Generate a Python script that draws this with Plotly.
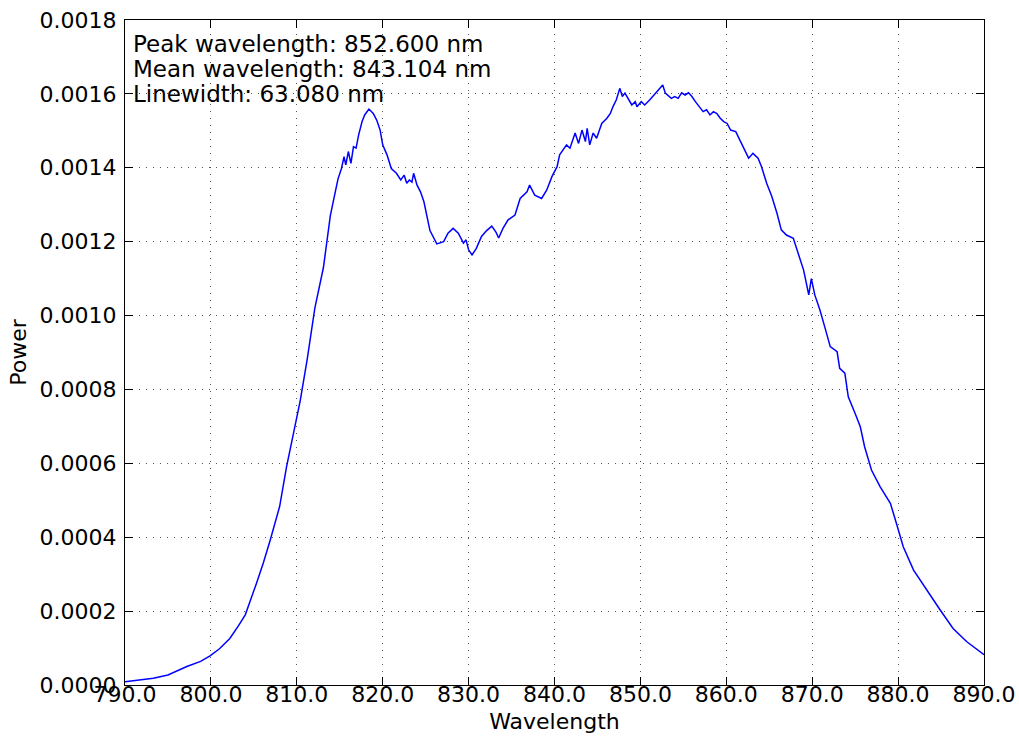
import plotly.graph_objects as go

wavelength = [790.0, 791.5, 793.3, 795.0, 797.2, 798.8, 799.9, 801.0, 802.2, 803.2, 804.0, 805.3,
              806.1, 806.9, 808.0, 808.8, 809.6, 810.4, 811.2, 812.1, 813.1, 813.9,
              814.4, 814.8, 815.2, 815.5, 815.7, 816.0, 816.3, 816.6, 816.9, 817.2, 817.6, 817.9,
              818.4, 818.9, 819.3, 819.7, 820.0, 820.5, 821.0, 821.6, 822.1, 822.5, 822.8, 823.1,
              823.4, 823.6, 824.0, 824.4, 824.8,
              825.1, 825.5, 826.3, 827.1, 827.6, 828.2, 828.8, 829.4, 829.7, 830.0, 830.4, 830.9,
              831.5, 832.1, 832.7, 833.2, 833.5, 834.0, 834.6, 835.4, 836.0, 836.8, 837.1, 837.7,
              838.5, 839.1, 839.7, 840.3,
              840.6, 841.4, 841.8, 842.4, 842.8, 843.2, 843.6, 843.8, 844.1, 844.5, 844.9, 845.5,
              846.1, 846.5, 846.8, 847.2, 847.6, 847.9, 848.2, 848.6, 849.0, 849.4, 849.6, 850.1,
              850.5, 851.1, 851.6, 852.1, 852.6, 852.9, 853.2, 853.6, 854.0, 854.4, 854.8, 855.2,
              855.6, 856.0, 856.4, 856.9, 857.3, 857.7, 858.1, 858.5, 858.9, 859.3, 859.7, 860.1,
              860.5, 861.1, 861.6,
              862.0, 862.6, 863.1, 863.7,
              864.1, 864.7, 865.3, 865.9, 866.4, 867.0, 867.8, 868.4, 869.0, 869.6, 869.9, 870.3,
              870.9, 871.5, 872.1, 872.9, 873.2, 873.8, 874.2, 875.0, 875.6, 876.1, 876.9, 877.9,
              879.1, 879.8, 880.6, 881.8, 883.3, 884.9, 886.4, 888.0, 890.0]

power = [0.0000089, 0.000013, 0.000018, 0.000027, 0.000050, 0.000064, 0.000079, 0.000098, 0.000126,
         0.000160, 0.000190, 0.000275, 0.000330, 0.000392, 0.000483, 0.000590, 0.000680, 0.000770,
         0.000880, 0.001020, 0.001130, 0.001270,
         0.001326, 0.001370, 0.001398, 0.001430, 0.001408, 0.001444, 0.001412, 0.001457, 0.001453,
         0.001489, 0.001525, 0.001543, 0.001559, 0.001547, 0.001529, 0.001502, 0.001462, 0.001435,
         0.001398, 0.001385, 0.001367, 0.001380, 0.001358, 0.001367, 0.001361, 0.001385, 0.001353,
         0.001335, 0.001308,
         0.001277, 0.001230, 0.001194, 0.001200, 0.001223, 0.001236,
         0.001223, 0.001196, 0.001205, 0.001178, 0.001164, 0.001182, 0.001214, 0.001230, 0.001242,
         0.001225, 0.001210, 0.001236, 0.001259, 0.001272, 0.001317, 0.001335, 0.001353, 0.001326,
         0.001317, 0.001340, 0.001376, 0.001403,
         0.001435, 0.001462, 0.001453, 0.001494, 0.001466, 0.001502, 0.001471, 0.001507, 0.001462,
         0.001494, 0.001480, 0.001520, 0.001534, 0.001547, 0.001565, 0.001584, 0.001615, 0.001593,
         0.001602, 0.001584, 0.001570, 0.001579, 0.001565, 0.001579, 0.001570, 0.001584, 0.001597,
         0.001611, 0.001624, 0.001602, 0.001597, 0.001588, 0.001593, 0.001588, 0.001603, 0.001597,
         0.001603, 0.001593, 0.001579, 0.001565, 0.001552, 0.001557, 0.001543, 0.001552, 0.001547,
         0.001534, 0.001525, 0.001520, 0.001502, 0.001498, 0.001475,
         0.001453, 0.001426, 0.001439, 0.001426,
         0.001403, 0.001358, 0.001322, 0.001277, 0.001232, 0.001218,
         0.001209, 0.001169, 0.001123, 0.001056, 0.001100, 0.001056, 0.001015, 0.000966, 0.000916,
         0.000902, 0.000857, 0.000844, 0.000780, 0.000735, 0.000699, 0.000645, 0.000582, 0.000537,
         0.000492, 0.000438, 0.000374, 0.000311, 0.000257, 0.000203, 0.000153, 0.000117, 0.000082]

x_ticks = [790, 800, 810, 820, 830, 840, 850, 860, 870, 880, 890]
y_ticks = [0.0000, 0.0002, 0.0004, 0.0006, 0.0008, 0.0010, 0.0012, 0.0014, 0.0016, 0.0018]
info_lines = ["Peak wavelength: 852.600 nm", "Mean wavelength: 843.104 nm", "Linewidth: 63.080 nm"]

fig = go.Figure()
fig.add_trace(go.Scatter(x=wavelength, y=power, mode="lines",
                         line=dict(color="#0000ff", width=1.5), showlegend=False))

font = dict(family="DejaVu Sans", size=22, color="black")
ann_font = dict(family="DejaVu Sans", size=23, color="black")
axis_common = dict(showline=True, linecolor="black", linewidth=1, mirror="ticks",
                   ticks="inside", ticklen=8, tickcolor="black", tickwidth=1,
                   showgrid=True, gridcolor="#555555", griddash="1px,6px", gridwidth=1,
                   zeroline=False, tickfont=font, automargin=False)

fig.update_xaxes(range=[790, 890], tickvals=x_ticks,
                 ticktext=[f"{v:.1f}" for v in x_ticks], ticklabelstandoff=-10,
                 title=dict(text="Wavelength", font=font, standoff=7), **axis_common)
fig.update_yaxes(range=[0, 0.0018], tickvals=y_ticks,
                 ticktext=[f"{v:.4f}" for v in y_ticks], ticklabelstandoff=3,
                 title=dict(text="Power", font=font, standoff=6), **axis_common)

for i, t in enumerate(info_lines):
    fig.add_annotation(text=t, xref="paper", yref="paper", x=0, y=1,
                       xanchor="left", yanchor="top", xshift=6, yshift=-9 - 25 * i,
                       showarrow=False, font=ann_font)

fig.update_layout(width=1019, height=739, margin=dict(l=125, r=35, t=20, b=54),
                  paper_bgcolor="white", plot_bgcolor="white")

fig.write_html("out.html", config={"displayModeBar": False},
               post_script="document.body.style.margin='0';document.body.style.padding='0';")
